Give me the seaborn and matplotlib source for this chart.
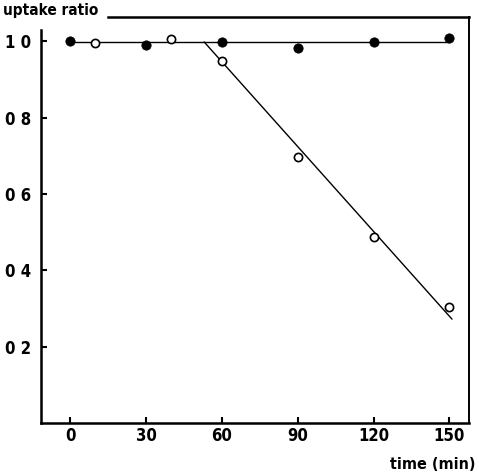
import matplotlib
matplotlib.use("Agg")
import matplotlib.pyplot as plt
import seaborn as sns

# filled circles (control)
filled_time = [0, 30, 60, 90, 120, 150]
filled_ratio = [1.0, 0.99, 0.998, 0.982, 0.998, 1.008]

# open circles (treated)
open_time = [10, 40, 60, 90, 120, 150]
open_ratio = [0.995, 1.005, 0.948, 0.696, 0.486, 0.303]

# drawn fit lines
flat_time = [0, 150]
flat_ratio = [0.998, 0.998]
drop_time = [53, 151]
drop_ratio = [0.998, 0.272]

x_ticks = [0, 30, 60, 90, 120, 150]
y_ticks = [0.2, 0.4, 0.6, 0.8, 1.0]
y_tick_labels = ["0 2", "0 4", "0 6", "0 8", "1 0"]

sns.set_style("ticks")
plt.rcParams["font.family"] = ["DejaVu Sans"]
plt.rcParams["font.stretch"] = "condensed"
plt.rcParams["font.weight"] = "bold"
plt.rcParams["text.color"] = "black"

fig = plt.figure(figsize=(4.79, 4.75), dpi=100)
ax = fig.add_axes([0.0856, 0.1095, 0.8934, 0.8545])

sns.lineplot(x=flat_time, y=flat_ratio, ax=ax, color="black", linewidth=1.0)
sns.lineplot(x=drop_time, y=drop_ratio, ax=ax, color="black", linewidth=1.0)

sns.scatterplot(x=filled_time, y=filled_ratio, ax=ax, color="black",
                edgecolor="black", s=45, zorder=3)
sns.scatterplot(x=open_time, y=open_ratio, ax=ax, color="white",
                edgecolor="black", linewidth=1.2, s=35, zorder=3)

ax.set_xlim(-11.5, 157.7)
ax.set_ylim(0.0, 1.063)
ax.set_xticks(x_ticks)
ax.set_xticklabels([str(t) for t in x_ticks])
ax.set_yticks(y_ticks)
ax.set_yticklabels(y_tick_labels)
ax.tick_params(direction="in", length=4, width=1.5, labelsize=12,
               color="black", labelcolor="black")
ax.tick_params(axis="y", pad=7)
ax.tick_params(axis="x", pad=3)

for side in ["left", "right", "top", "bottom"]:
    ax.spines[side].set_color("black")
    ax.spines[side].set_linewidth(1.8)
ax.spines["right"].set_linewidth(1.4)
ax.spines["left"].set_bounds(0.0, 1.03)
ax.spines["top"].set_bounds(15, 157.7)

ax.text(-0.089, 1.017, "uptake ratio", transform=ax.transAxes, fontsize=11,
        fontweight="bold", ha="left", va="center", color="black")
ax.text(1.016, -0.103, "time (min)", transform=ax.transAxes, fontsize=11.5,
        fontweight="bold", ha="right", va="center", color="black")
ax.set_xlabel("")
ax.set_ylabel("")

fig.savefig("out.png", dpi=100)
